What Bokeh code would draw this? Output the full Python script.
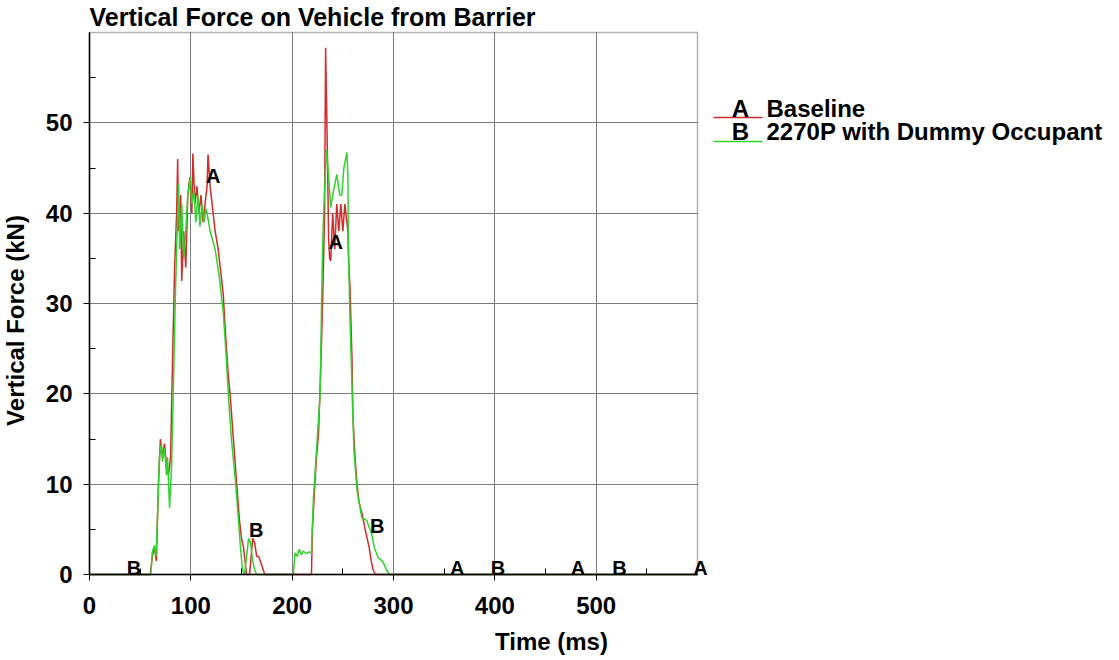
import math
from bokeh.plotting import figure
from bokeh.models import (Range1d, FixedTicker, Label, LabelSet, ColumnDataSource, Arrow,
                          BoxAnnotation, Grid)
from bokeh.core.properties import value
from bokeh.embed import file_html
from bokeh.resources import INLINE

# ---------------- data ----------------
title_text = "Vertical Force on Vehicle from Barrier"
x_label = "Time (ms)"
y_label = "Vertical Force (kN)"
series_names = ["Baseline", "2270P with Dummy Occupant"]
series_tags = ["A", "B"]

x_ticks = [0, 100, 200, 300, 400, 500]
x_minor = [50, 150, 250, 350, 450, 550]
y_ticks = [0, 10, 20, 30, 40, 50]
y_minor = [5, 15, 25, 35, 45, 55]
x_span = (0, 600)
y_span = (0, 60)

# Baseline (A)
t_a = [0, 60, 62, 64, 66, 68, 70, 72, 74, 76, 78, 80, 82, 84, 86, 87, 88, 90, 91, 93,
       95, 97, 99, 101, 102, 104, 106, 108, 110, 112, 114, 116, 117, 119, 121, 124, 127,
       130, 132, 134, 137, 139, 142, 145, 148, 150, 152, 155, 158, 161, 163, 165, 167,
       170, 173, 219, 220, 222, 224, 226, 228, 230, 232, 233, 234, 235, 236, 237, 238,
       240, 242, 244, 246, 248, 250, 252, 254, 255, 256, 257, 259, 260, 262, 264, 266,
       269, 272, 274, 276, 278, 280, 282, 600]
f_a = [0, 0, 2, 3, 1.5, 10, 15, 13, 14.5, 12, 11, 13, 24, 34, 40, 46, 38, 42, 32.5, 38,
       34, 42, 44, 40, 46.6, 41, 43, 40, 42, 39, 41, 43, 46.5, 43, 41, 38, 36,
       33, 31, 27, 22, 19.6, 15, 10.4, 6, 4, 3, 0, 0, 4, 3.5, 2, 2,
       1, 0, 0, 5, 9.3, 13, 15.6, 22, 30, 40, 58.3, 51.7, 45, 37, 35, 34.7,
       40, 36, 41, 38, 41, 38, 41, 39, 38, 34, 32, 24, 17.4, 13, 10, 8,
       6.7, 5, 4, 3, 1.5, 0.5, 0, 0]

# 2270P with Dummy Occupant (B)
t_b = [0, 60.5, 62, 64, 65.5, 67, 69, 71, 72, 74, 76, 77, 79, 81, 83, 85, 87, 88, 89, 91,
       93, 95, 97, 99.5, 101, 103, 105, 107, 109, 111, 113, 115, 116, 119, 124, 128, 132,
       135, 137, 140, 144, 147, 149, 151, 153, 155, 157, 159, 161, 163, 165, 201, 203,
       205, 207, 209, 211, 214, 217, 219, 221, 224, 227.6, 229, 230, 231, 233, 234, 236,
       238, 240, 244, 247, 249, 251, 254, 255, 255.5, 257, 259, 261, 264, 268.7, 273.6,
       276, 278.5, 281, 284.7, 289.7, 293, 296.6, 600]
f_b = [0, 0, 2.5, 3.2, 2, 6, 13, 14.5, 12.5, 14, 11, 13, 7.4, 12, 22, 32, 40, 43.2, 36, 41,
       35, 38, 42, 44, 41, 42.5, 39, 42, 38.5, 41, 39, 40.5, 40, 38, 36, 33, 29,
       24, 20, 15, 10.4, 6, 3, 0.5, 0, 2, 4, 3.5, 1.5, 0.5, 0, 0, 2.4,
       2, 2.8, 2.2, 2.6, 2.3, 2.5, 2.4, 8.5, 13.7, 20, 30, 36, 40, 45, 47, 44,
       40.6, 42, 44.3, 42, 42, 45, 46.7, 44, 35.8, 28.5, 21, 13.7, 9.3, 6.3, 6,
       5.2, 4.5, 3, 1.9, 1.4, 0.5, 0, 0]

# curve tag letters (time, force at which the letter sits)
tag_a_t = [122, 243, 363, 482, 603]
tag_a_f = [43.3, 36.0, 0, 0, 0]
tag_b_t = [44, 164.5, 284, 403, 523]
tag_b_f = [0, 4.1, 4.6, 0, 0]

# ---------------- layout ----------------
W, H = 1119, 660
FL, FR, FT, FB = 89, 697, 32, 574          # plot box in pixels
PXX = (FR - FL) / (x_span[1] - x_span[0])
PXY = (FB - FT) / (y_span[1] - y_span[0])


def dx(px):
    return x_span[0] + (px - FL) / PXX


def dy(py):
    return y_span[0] + (FB - py) / PXY


FONT = "Liberation Sans"
RED = "#d42a2a"
GREEN = "#2ed42e"
GRID = "#7c7c7c"

p = figure(width=W, height=H,
           x_range=Range1d(dx(0), dx(W)), y_range=Range1d(dy(H), dy(0)),
           output_backend="svg", toolbar_location=None,
           min_border=0, min_border_left=0, min_border_right=0,
           min_border_top=0, min_border_bottom=0,
           background_fill_color="white", border_fill_color="white")
p.outline_line_color = None

# axes pinned to the plot box
p.xaxis.fixed_location = y_span[0]
p.yaxis.fixed_location = x_span[0]
p.xaxis.bounds = x_span
p.yaxis.bounds = y_span
p.xaxis.ticker = FixedTicker(ticks=x_ticks, minor_ticks=x_minor)
p.yaxis.ticker = FixedTicker(ticks=y_ticks, minor_ticks=y_minor)
for ax in (p.xaxis, p.yaxis):
    ax.axis_line_color = "black"
    ax.axis_line_width = 1.5
    ax.major_tick_line_color = "black"
    ax.minor_tick_line_color = "black"
    ax.major_tick_in = 0
    ax.major_tick_out = 6
    ax.minor_tick_in = 6
    ax.minor_tick_out = 0
    ax.major_label_text_font = FONT
    ax.major_label_text_font_style = "bold"
    ax.major_label_text_font_size = "24px"
    ax.major_label_text_color = "black"
p.xaxis.major_label_standoff = 16
p.yaxis.major_label_standoff = 11

# grid limited to the plot box
p.xgrid.visible = False
p.ygrid.visible = False
p.add_layout(Grid(dimension=0, ticker=FixedTicker(ticks=x_ticks), bounds=x_span,
                  cross_bounds=y_span, grid_line_color=GRID, grid_line_width=1))
p.add_layout(Grid(dimension=1, ticker=FixedTicker(ticks=y_ticks), bounds=y_span,
                  cross_bounds=x_span, grid_line_color=GRID, grid_line_width=1))
p.add_layout(BoxAnnotation(left=x_span[0], right=x_span[1], bottom=y_span[0], top=y_span[1],
                           fill_alpha=0, line_color="black", line_width=1.5))

p.line(t_a, f_a, line_color=RED, line_width=1.5)
p.line(t_b, f_b, line_color=GREEN, line_width=1.5)

tag_src_a = ColumnDataSource(dict(x=tag_a_t, y=tag_a_f, t=[series_tags[0]] * len(tag_a_t)))
tag_src_b = ColumnDataSource(dict(x=tag_b_t, y=tag_b_f, t=[series_tags[1]] * len(tag_b_t)))
for src in (tag_src_a, tag_src_b):
    p.add_layout(LabelSet(x="x", y="y", text="t", source=src, text_align="center",
                          text_baseline="alphabetic", text_font=value(FONT),
                          text_font_style="bold", text_font_size="20px",
                          text_color="black"))

# title and axis labels
p.add_layout(Label(x=dx(89), y=dy(16), text=title_text, text_font=FONT,
                   text_font_style="bold", text_font_size="25px", text_color="black",
                   text_baseline="middle", text_align="left"))
p.add_layout(Label(x=dx(551), y=dy(641), text=x_label, text_font=FONT,
                   text_font_style="bold", text_font_size="24px", text_color="black",
                   text_baseline="middle", text_align="center"))
p.add_layout(Label(x=dx(15), y=dy(320), text=y_label, text_font=FONT,
                   text_font_style="bold", text_font_size="24px", text_color="black",
                   text_baseline="middle", text_align="center", angle=math.pi / 2))

# legend
leg_line = [117, 141]
leg_mid = [107.5, 131]
leg_col = [RED, GREEN]
for i in range(2):
    yl = dy(leg_line[i])
    ym = dy(leg_mid[i])
    p.add_layout(Arrow(start=None, end=None, x_start=dx(713), y_start=yl,
                       x_end=dx(762), y_end=yl, line_color=leg_col[i], line_width=1.5))
    p.add_layout(Label(x=dx(740), y=ym, text=series_tags[i], text_font=FONT,
                       text_font_style="bold", text_font_size="24px", text_color="black",
                       text_baseline="middle", text_align="center"))
    p.add_layout(Label(x=dx(766), y=ym, text=series_names[i], text_font=FONT,
                       text_font_style="bold", text_font_size="24px", text_color="black",
                       text_baseline="middle", text_align="left"))

open("out.html", "w").write(file_html(p, INLINE))
